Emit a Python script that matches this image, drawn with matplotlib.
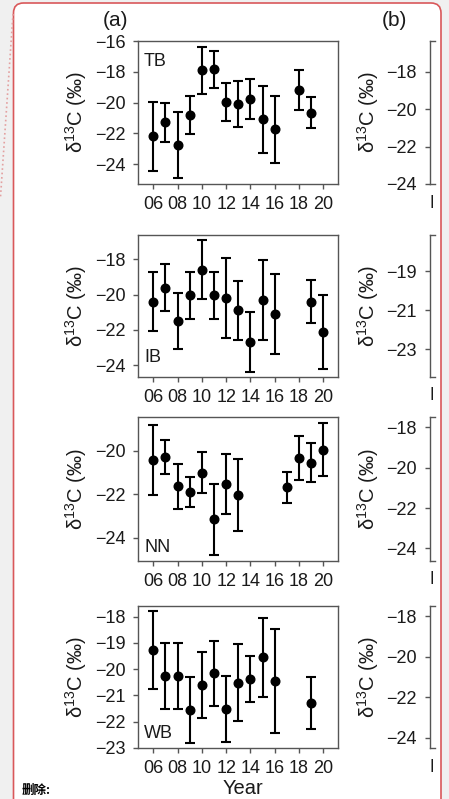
import matplotlib
matplotlib.use('Agg')
import matplotlib.pyplot as plt
from matplotlib.patches import FancyBboxPatch
from matplotlib.lines import Line2D
from matplotlib.transforms import IdentityTransform, Bbox

plt.rcParams['font.family'] = ['Liberation Sans', 'DejaVu Sans']
plt.rcParams['mathtext.fontset'] = 'custom'
plt.rcParams['mathtext.rm'] = 'Liberation Sans'
plt.rcParams['mathtext.it'] = 'Liberation Sans:italic'

W, H = 449, 799

# 各站点逐年 δ13C 均值与标准差
tb_years = [6, 7, 8, 9, 10, 11, 12, 13, 14, 15, 16, 18, 19]
tb_mean = [-22.2, -21.3, -22.75, -20.8, -17.9, -17.85, -19.95, -20.1, -19.8, -21.1, -21.75, -19.2, -20.65]
tb_sd = [2.25, 1.25, 2.15, 1.23, 1.54, 1.23, 1.25, 1.51, 1.3, 2.16, 2.17, 1.29, 1.01]

ib_years = [6, 7, 8, 9, 10, 11, 12, 13, 14, 15, 16, 19, 20]
ib_mean = [-20.4, -19.6, -21.5, -20.05, -18.6, -20.05, -20.2, -20.9, -22.7, -20.3, -21.1, -20.4, -22.1]
ib_sd = [1.69, 1.33, 1.59, 1.35, 1.67, 1.35, 2.27, 1.69, 1.7, 2.25, 2.29, 1.21, 2.1]

nn_years = [6, 7, 8, 9, 10, 11, 12, 13, 17, 18, 19, 20]
nn_mean = [-20.43, -20.31, -21.64, -21.9, -21.01, -23.15, -21.53, -22.05, -21.69, -20.34, -20.55, -19.95]
nn_sd = [1.61, 0.78, 1.03, 0.7, 0.95, 1.63, 1.38, 1.65, 0.72, 1.0, 0.9, 1.2]

wb_years = [6, 7, 8, 9, 10, 11, 12, 13, 14, 15, 16, 19]
wb_mean = [-19.27, -20.25, -20.25, -21.55, -20.6, -20.15, -21.52, -20.52, -20.36, -19.55, -20.45, -21.29]
wb_sd = [1.47, 1.25, 1.25, 1.25, 1.24, 1.24, 1.25, 1.47, 0.87, 1.49, 1.98, 1.0]

sites = ['TB', 'IB', 'NN', 'WB']
site_years = [tb_years, ib_years, nn_years, wb_years]
site_mean = [tb_mean, ib_mean, nn_mean, wb_mean]
site_sd = [tb_sd, ib_sd, nn_sd, wb_sd]
site_yticks = [[-16, -18, -20, -22, -24], [-18, -20, -22, -24], [-20, -22, -24],
               [-18, -19, -20, -21, -22, -23]]
year_ticks = [6, 8, 10, 12, 14, 16, 18, 20]
year_labels = ['06', '08', '10', '12', '14', '16', '18', '20']

# (b) 列只露出左侧纵轴
b_yticks = [[-18, -20, -22, -24], [-19, -21, -23], [-18, -20, -22, -24], [-18, -20, -22, -24]]

# 布局（像素）
rows_px = [(41, 184), (235, 376.7), (416.7, 560.7), (605.7, 748)]
a_ylims = [(-25.3, -16.0), (-24.66, -16.62), (-25.06, -18.44), (-23.0, -17.58)]
b_ylims = [(-24.0, -16.36), (-24.4, -17.16), (-24.61, -17.47), (-24.51, -17.49)]
label_y = [61, 358, 547, 733]

spine_c = '#555555'
text_c = '#1a1a1a'
fs = 13


def rect(left, top, right, bottom):
    return [left / W, 1 - bottom / H, (right - left) / W, (bottom - top) / H]


def style(ax):
    for s in ax.spines.values():
        s.set_color(spine_c)
        s.set_linewidth(1.0)
    ax.tick_params(direction='out', length=3.6, width=1.0, color=spine_c,
                   labelsize=fs, labelcolor=text_c)
    ax.tick_params(axis='x', pad=5)
    ax.tick_params(axis='y', pad=5.5)


fig = plt.figure(figsize=(W / 100, H / 100), dpi=100)
fig.patch.set_facecolor('#f0f0f0')

page = FancyBboxPatch((13.5, -30), 441 - 13.5, (H - 3) + 30,
                      boxstyle='round,pad=0,rounding_size=10',
                      transform=IdentityTransform(), facecolor='white',
                      edgecolor='#d9585a', linewidth=1.2, zorder=-2)
fig.add_artist(page)
fig.add_artist(Line2D([13, 0.5], [H - 14, H - 197], transform=IdentityTransform(),
                      color='#e3a0a0', linestyle=':', linewidth=1.2, zorder=-1))

ylab = 'δ$^{13}$C (‰)'

for i, (top, bottom) in enumerate(rows_px):
    ax = fig.add_axes(rect(138, top, 338, bottom))
    ax.errorbar(site_years[i], site_mean[i], yerr=site_sd[i], fmt='o', color='black',
                ms=6.2, capsize=3.6, elinewidth=1.5, capthick=1.5)
    ax.set_xlim(4.75, 21.2)
    ax.set_ylim(*a_ylims[i])
    ax.set_yticks(site_yticks[i])
    ax.set_yticklabels([f'\u2212{abs(v)}' for v in site_yticks[i]])
    ax.set_xticks(year_ticks)
    ax.set_xticklabels(year_labels)
    style(ax)
    ax.set_ylabel(ylab, fontsize=14.5, color=text_c)
    ax.yaxis.set_label_coords((89 - 138) / 200, 0.5)
    fig.text(144 / W, 1 - label_y[i] / H, sites[i], fontsize=fs, color=text_c,
             ha='left', va='center')

    # (b) 列
    bx = fig.add_axes(rect(429.5, top, 435, bottom))
    bx.set_ylim(*b_ylims[i])
    bx.set_xticks([])
    bx.set_yticks(b_yticks[i])
    bx.set_yticklabels([f'\u2212{abs(v)}' for v in b_yticks[i]])
    bx.spines['right'].set_visible(False)
    style(bx)
    bx.set_ylabel(ylab, fontsize=14.5, color=text_c)
    bx.yaxis.set_label_coords((381 - 429.5) / 5.5, 0.5)
    t = fig.text(429.3 / W, 1 - (bottom + 19) / H, 'N', fontsize=fs, color=text_c,
                 ha='left', va='center')
    t.set_clip_box(Bbox([[0, 0], [432.6, H]]))
    t.set_clip_on(True)

fig.text(115 / W, 1 - 20 / H, '(a)', fontsize=15, ha='center', va='center', color=text_c)
fig.text(394 / W, 1 - 20 / H, '(b)', fontsize=15, ha='center', va='center', color=text_c)
fig.text(243 / W, 1 - 789 / H, 'Year', fontsize=14.5, ha='center', va='center', color=text_c)
fig.text(22 / W, 1 - 784 / H, '删除:', fontsize=9, fontweight='bold', ha='left', va='top',
         family=['Noto Sans CJK SC', 'DejaVu Sans'])

fig.savefig('out.png', dpi=100, facecolor=fig.get_facecolor())
